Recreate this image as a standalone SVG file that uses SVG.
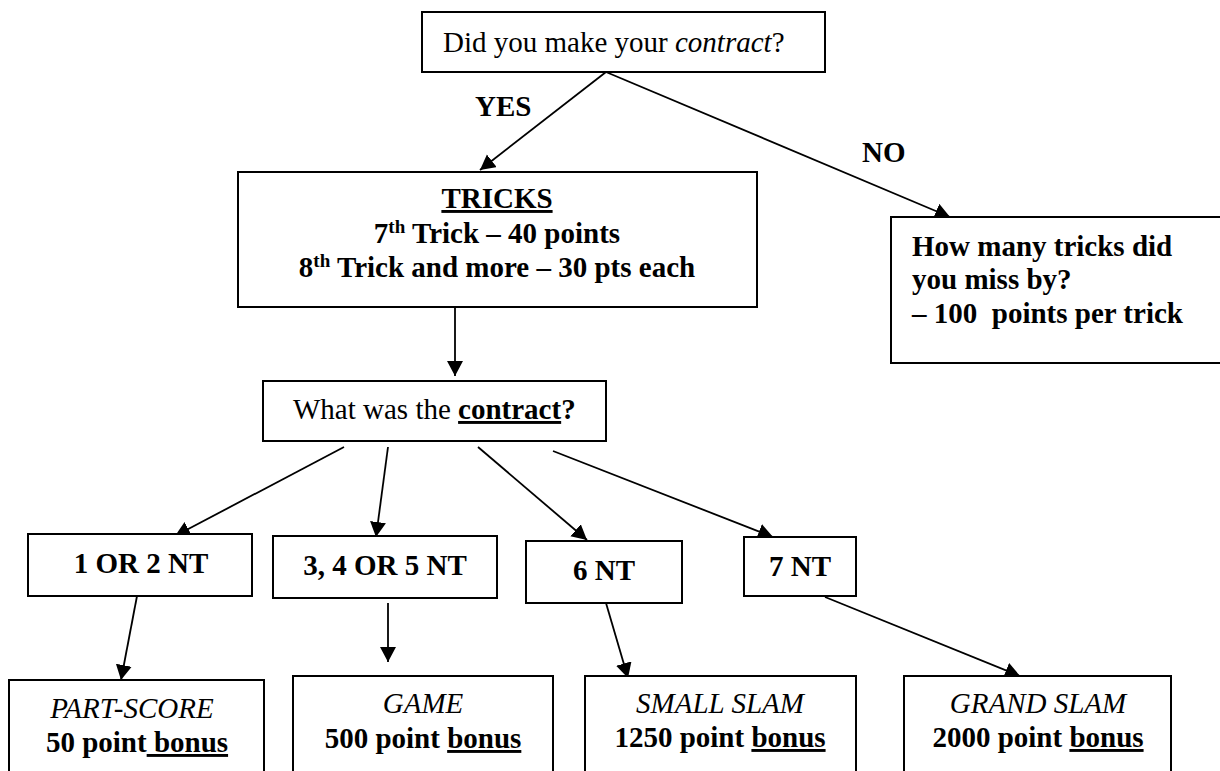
<svg xmlns="http://www.w3.org/2000/svg" width="1220" height="771" viewBox="0 0 1220 771">
<defs>
<marker id="ah" markerUnits="userSpaceOnUse" markerWidth="18" markerHeight="18" refX="15" refY="8" orient="auto">
<path d="M0,0 L15,8 L0,16 z" fill="#000"/>
</marker>
<style>
.box{fill:#fff;stroke:#000;stroke-width:2}
.t{font-family:"Liberation Serif","Times New Roman",serif;font-size:29px;fill:#000}
.b{font-weight:bold}
.i{font-style:italic}
.c{text-anchor:middle}
.u{text-decoration:underline}
.sup{font-size:19px}
.ln{stroke:#000;stroke-width:1.8;fill:none;marker-end:url(#ah)}
</style>
</defs>
<rect width="1220" height="771" fill="#fff"/>
<g id="connectors">
<line class="ln" x1="606" y1="72" x2="480" y2="170"/>
<line class="ln" x1="606" y1="72" x2="950" y2="217"/>
<line class="ln" x1="455" y1="307" x2="455" y2="376"/>
<line class="ln" x1="344" y1="447" x2="175" y2="536"/>
<line class="ln" x1="388" y1="447" x2="376" y2="537"/>
<line class="ln" x1="478" y1="447" x2="587" y2="540"/>
<line class="ln" x1="553" y1="451" x2="773" y2="537"/>
<line class="ln" x1="137" y1="596" x2="121" y2="680"/>
<line class="ln" x1="388" y1="603" x2="388" y2="662"/>
<line class="ln" x1="606" y1="603" x2="628" y2="678"/>
<line class="ln" x1="825" y1="597" x2="1020" y2="676"/>
</g>
<g id="labels">
<text class="t b" x="475" y="116">YES</text>
<text class="t b" x="862" y="162">NO</text>
</g>
<g id="q-contract-made">
<rect class="box" x="422" y="12" width="403" height="60"/>
<text class="t" x="443" y="52">Did you make your <tspan class="i">contract</tspan>?</text>
</g>
<g id="tricks">
<rect class="box" x="238" y="172" width="519" height="135"/>
<text class="t b c" x="497" y="208"><tspan class="u">TRICKS</tspan></text>
<text class="t b c" x="497" y="243">7<tspan class="sup" dy="-10">th</tspan><tspan dy="10"> Trick – 40 points</tspan></text>
<text class="t b c" x="497" y="277">8<tspan class="sup" dy="-10">th</tspan><tspan dy="10"> Trick and more – 30 pts each</tspan></text>
</g>
<g id="missed">
<rect class="box" x="891" y="217" width="334" height="146"/>
<text class="t b" x="912" y="256">How many tricks did</text>
<text class="t b" x="912" y="289">you miss by?</text>
<text class="t b" x="912" y="323" xml:space="preserve">– 100  points per trick</text>
</g>
<g id="q-which-contract">
<rect class="box" x="263" y="381" width="343" height="60"/>
<text class="t" x="293" y="419">What was the <tspan class="b u">contract</tspan><tspan class="b">?</tspan></text>
</g>
<g id="nt12">
<rect class="box" x="28" y="534" width="224" height="62"/>
<text class="t b c" x="141" y="573">1 OR 2 NT</text>
</g>
<g id="nt345">
<rect class="box" x="273" y="536" width="224" height="62"/>
<text class="t b c" x="385" y="575">3, 4 OR 5 NT</text>
</g>
<g id="nt6">
<rect class="box" x="526" y="541" width="156" height="62"/>
<text class="t b c" x="604" y="580">6 NT</text>
</g>
<g id="nt7">
<rect class="box" x="744" y="537" width="112" height="59"/>
<text class="t b c" x="800" y="576">7 NT</text>
</g>
<g id="partscore">
<rect class="box" x="9" y="680" width="255" height="120"/>
<text class="t i c" x="132" y="718">PART-SCORE</text>
<text class="t b c" x="137" y="752">50 point<tspan class="u"> bonus</tspan></text>
</g>
<g id="game">
<rect class="box" x="293" y="676" width="260" height="120"/>
<text class="t i c" x="423" y="713">GAME</text>
<text class="t b c" x="423" y="748">500 point <tspan class="u">bonus</tspan></text>
</g>
<g id="smallslam">
<rect class="box" x="585" y="676" width="271" height="120"/>
<text class="t i c" x="720" y="713">SMALL SLAM</text>
<text class="t b c" x="720" y="747">1250 point <tspan class="u">bonus</tspan></text>
</g>
<g id="grandslam">
<rect class="box" x="904" y="676" width="267" height="120"/>
<text class="t i c" x="1038" y="713">GRAND SLAM</text>
<text class="t b c" x="1038" y="747">2000 point <tspan class="u">bonus</tspan></text>
</g>
</svg>
